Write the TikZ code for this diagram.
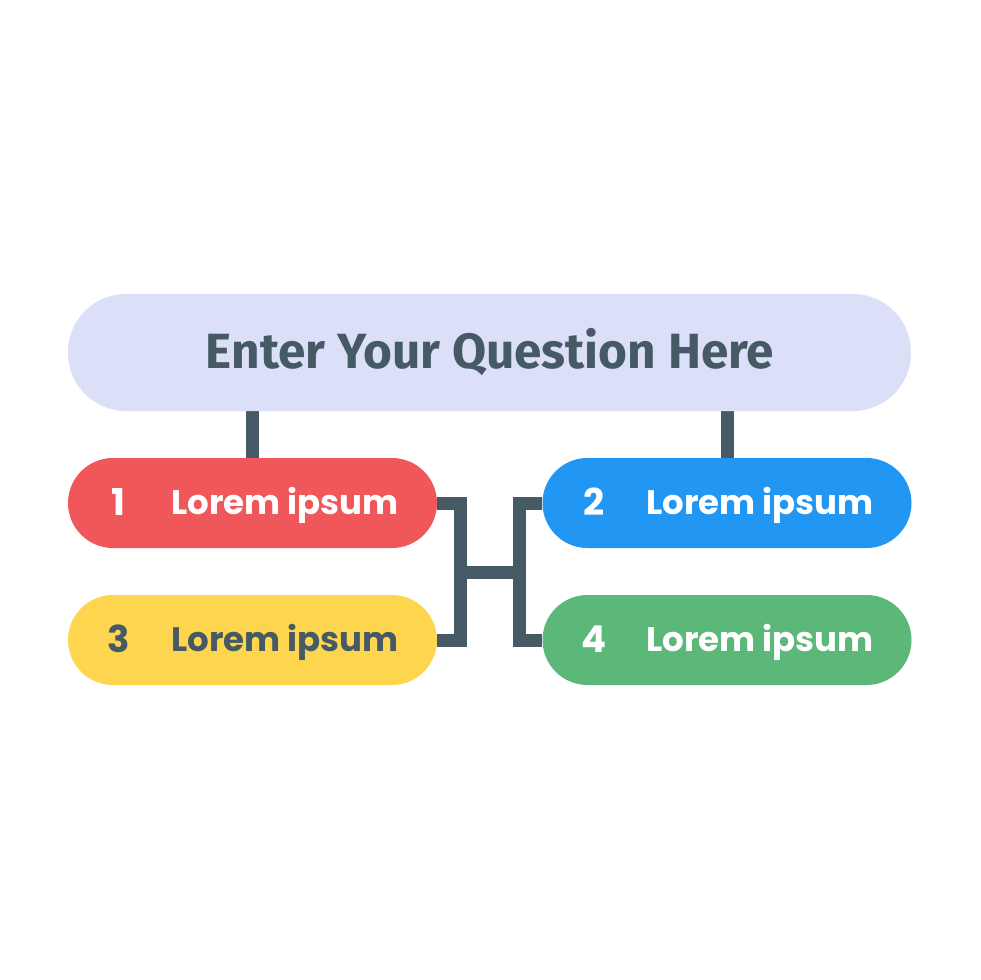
\documentclass[tikz,border=0pt]{standalone}
\usepackage{fontspec}
\setmainfont{Poppins}
\newfontfamily\titlefont{Fira Sans}
\usetikzlibrary{backgrounds}
\definecolor{qbg}{HTML}{DCDFF8}
\definecolor{dark}{HTML}{455A64}
\definecolor{pred}{HTML}{F0575A}
\definecolor{pblue}{HTML}{2196F3}
\definecolor{pyellow}{HTML}{FDD54F}
\definecolor{pgreen}{HTML}{5CB878}
\tikzset{
  pill/.style={rectangle, rounded corners=45pt, minimum width=369pt, minimum height=90pt, inner sep=0pt},
  numtxt/.style={font=\fontsize{37}{40}\selectfont\bfseries, inner sep=0pt, anchor=base},
  labtxt/.style={font=\fontsize{34}{40}\selectfont\bfseries, inner sep=0pt, anchor=base west},
  conn/.style={draw=dark, line width=13pt, line join=miter}
}
\begin{document}
\begin{tikzpicture}[x=1pt,y=-1pt]
\useasboundingbox (0,0) rectangle (980,980);
\node[rectangle, rounded corners=58pt, minimum width=843pt, minimum height=117pt, fill=qbg, inner sep=0pt] (q) at (489.5,352.5) {};
\node[font=\titlefont\fontsize{49.5}{55}\selectfont\bfseries, text=dark, inner sep=0pt, anchor=base] (qt) at (490,368) {Enter Your Question Here};

\node[pill, fill=pred] (r1) at (252.5,503) {};
\node[pill, fill=pblue] (r2) at (727,503) {};
\node[pill, fill=pyellow] (r3) at (252.5,640) {};
\node[pill, fill=pgreen] (r4) at (727,640) {};

\node[numtxt, text=white] (n1) at (118,515) {1};
\node[labtxt, text=white] (l1) at (171,514) {Lorem ipsum};
\node[numtxt, text=white] (n2) at (594,515) {2};
\node[labtxt, text=white] (l2) at (646,514) {Lorem ipsum};
\node[numtxt, text=dark] (n3) at (119,652) {3};
\node[labtxt, text=dark] (l3) at (171,651) {Lorem ipsum};
\node[numtxt, text=white] (n4) at (594,652) {4};
\node[labtxt, text=white] (l4) at (646,651) {Lorem ipsum};

\coordinate (lb) at (460,572);
\coordinate (rb) at (519.5,572);

\begin{scope}[on background layer]
\fill[white] (0,0) rectangle (980,980);
\draw[conn] (r1.north) -- (r1.north |- q.south);
\draw[conn] (r2.north) -- (r2.north |- q.south);
\draw[conn] (r1.east) -| (lb) |- (r3.east);
\draw[conn] (r2.west) -| (rb) |- (r4.west);
\draw[conn] (lb) -- (rb);
\end{scope}
\end{tikzpicture}
\end{document}
